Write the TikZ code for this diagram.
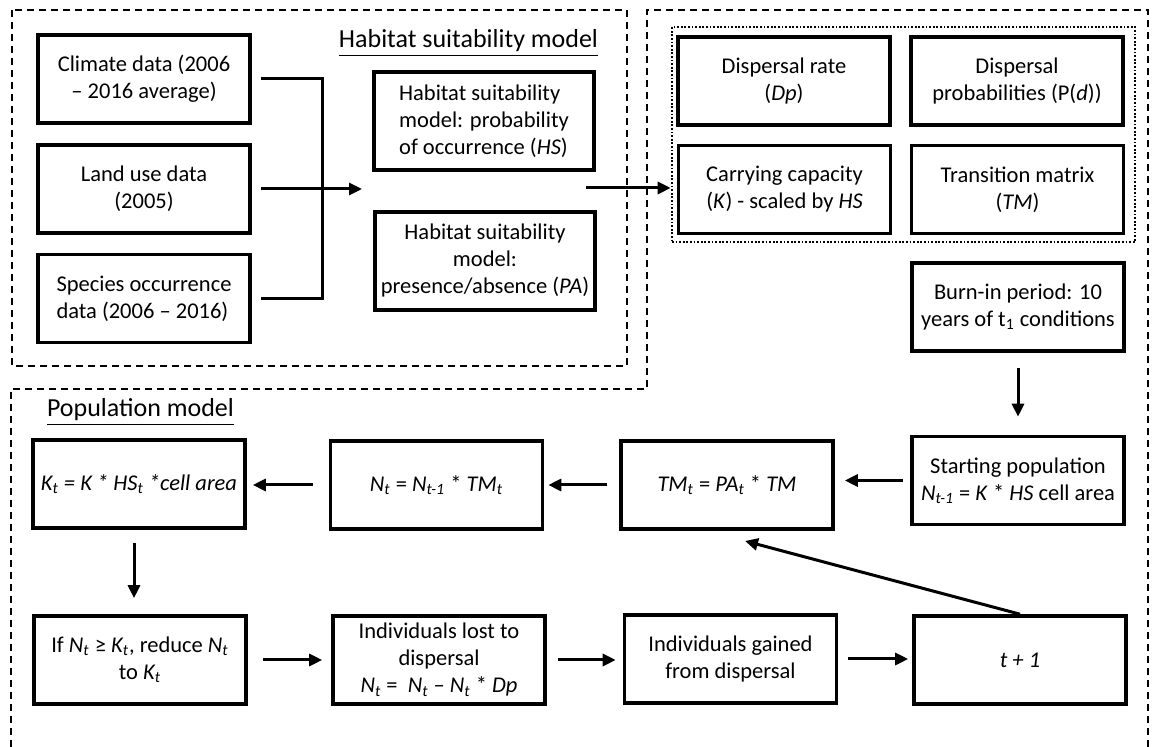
\documentclass[tikz,border=0pt]{standalone}
\usepackage{fontspec}
\setmainfont{Carlito}
\usetikzlibrary{arrows.meta}

\begin{document}
\begin{tikzpicture} [x=0.5pt,y=-0.5pt,
  box/.style= {draw,line width=1.8pt,minimum width=106pt,minimum height=44pt,align=center,inner sep=2pt,font=\fontsize{11.25}{13.5}\selectfont},
  tallbox/.style= {minimum width=110pt,minimum height=49pt},
  region/.style= {draw,dash pattern=on 3.5pt off 2.5pt,line width=0.9pt},
  group/.style= {draw,dash pattern=on 0.9pt off 0.9pt,line width=1.3pt,minimum width=231.5pt,minimum height=107.5pt,inner sep=0},
  arr/.style= {-{Triangle[length=6.5pt,width=6pt]},line width=1.5pt},
  heading/.style= {font=\fontsize{13}{15.6}\selectfont,inner sep=0}]
  \useasboundingbox (0,0) rectangle (1152,747);
  % Dashed regions
  \draw[region] (12,10) rectangle (627,366);
  \draw[region] (11,747) -- (11,389) -- (647,389) -- (647,10) -- (1148,10) -- (1148,747);
  % Habitat suitability model
  \node[heading] (hsmtitle) at (468.5,43) {\underline{Habitat suitability model}};
  \node[box] (climate) at (144,79) {Climate data (2006\\– 2016 average)};
  \node[box] (landuse) at (144,189) {Land use data\\(2005)};
  \node[box,align=left] (species) at (144,298.5) {Species occurrence\\data (2006 – 2016)};
  \node[box,tallbox,align=left] (hsprob) at (484,121) {Habitat suitability\\model: probability\\of occurrence (\textit{HS})};
  \node[box,tallbox] (hspa) at (485,261) {Habitat suitability\\model:\\presence/absence (\textit{PA})};
  \coordinate (join) at (322,189);
  \coordinate (hsin) at (362,189);
  \draw[line width=1.5pt] ([xshift=4.5pt]climate.east) -| (join) |- ([xshift=4.5pt]species.east);
  \draw[arr] ([xshift=4.5pt]landuse.east) -- (hsin);
  % Parameters
  \node[group] (params) at (903.5,134.5) { };
  \node[box] (disprate) at (784,81) {Dispersal rate\\(\textit{Dp})};
  \node[box] (dispprob) at (1017,81) {Dispersal\\probabilities (P(\textit{d}))};
  \node[box] (carrying) at (784.5,189.5) {Carrying capacity\\(\textit{K}) - scaled by \textit{HS}};
  \node[box] (transition) at (1017.5,189.5) {Transition matrix\\(\textit{TM})};
  \node[box] (burnin) at (1018,307) {Burn-in period: 10\\years of t\textsubscript{1} conditions};
  \coordinate (hsout) at (586,188);
  \draw[arr] (hsout) -- (hsout -| params.west);
  % Population model
  \node[heading] (poptitle) at (140.5,412) {\underline{Population model}};
  %Row 1
  \node[box] (start) at (1018,480.5) {Starting population\\\textit{N\textsubscript{t-1}} = \textit{K} * \textit{HS} cell area};
  \node[box] (tmt) at (727,485) {\textit{TM\textsubscript{t}} = \textit{PA\textsubscript{t}} * \textit{TM}};
  \node[box] (nt) at (436.5,485) {\textit{N\textsubscript{t}} = \textit{N\textsubscript{t-1}} * \textit{TM\textsubscript{t}}};
  \node[box] (kt) at (139,484) {\itshape K\textsubscript{t} = K * HS\textsubscript{t} *cell area};
  %Row 2
  \node[box] (cap) at (140,660) {If \textit{N\textsubscript{t}} ≥ \textit{K\textsubscript{t}}, reduce \textit{N\textsubscript{t}}\\to \textit{K\textsubscript{t}}};
  \node[box] (lost) at (439,660) {Individuals lost to\\dispersal\\\textit{N\textsubscript{t}} = \ \textit{N\textsubscript{t}} – \textit{N\textsubscript{t}} * \textit{Dp}};
  \node[box] (gained) at (730.5,659) {Individuals gained\\from dispersal};
  \node[box] (tnext) at (1020,660) {\textit{t + 1}};
  % Arrows
  \draw[arr,shorten <=7.5pt,shorten >=9pt] (burnin.south) -- (start.north);
  \draw[arr,shorten <=3.5pt,shorten >=5pt] (start.west) -- (start.west -| tmt.east);
  \draw[arr,shorten <=6pt,shorten >=2pt] (tmt.west) -- (tmt.west -| nt.east);
  \draw[arr,shorten <=8pt,shorten >=3pt] (nt.west) -- (nt.west -| kt.east);
  \draw[arr,shorten <=6.5pt,shorten >=8pt] ([xshift=-2.5pt]kt.south) -- ([xshift=-2.5pt]kt.south |- cap.north);
  \draw[arr,shorten <=7.5pt,shorten >=4.5pt] (cap.east) -- (cap.east -| lost.west);
  \draw[arr,shorten <=5.5pt,shorten >=3.5pt] (lost.east) -- (lost.east -| gained.west);
  \draw[arr,shorten <=5pt,shorten >=2pt] (gained.east) -- (gained.east -| tnext.west);
  \coordinate (tmback) at (745,541);
  \draw[arr] (tnext.north) -- (tmback);
\end{tikzpicture}
\end{document}
